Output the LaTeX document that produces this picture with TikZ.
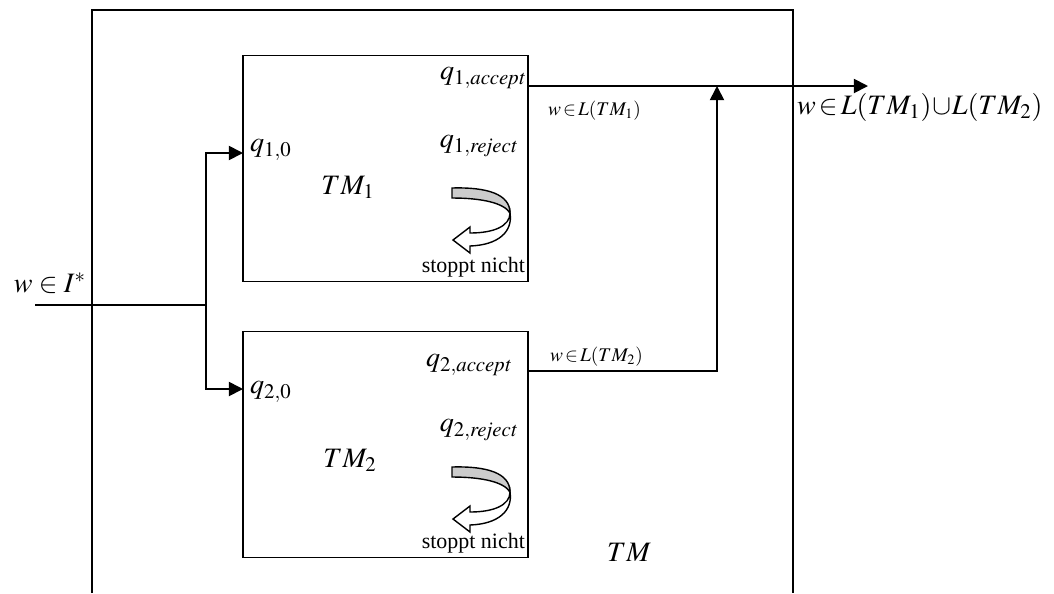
\documentclass[tikz,border=0pt]{standalone}
\usepackage{mathptmx}
\usepackage{fontspec}
\setmainfont{Liberation Serif}
\usetikzlibrary{arrows.meta,positioning}

\tikzset{
  machine/.style={draw, line width=1pt, minimum width=5.7cm, minimum height=4.52cm, inner sep=0pt},
  wire/.style={line width=1pt},
  feed/.style={wire, -{Triangle[length=8pt,width=8pt]}},
  bigtext/.style={font=\fontsize{16}{18}\selectfont, inner sep=1pt},
  smalltext/.style={font=\fontsize{11}{13}\selectfont, inner sep=1pt},
  haltnote/.style={font=\fontsize{12.5}{14}\selectfont, inner sep=1pt},
  loopcurl/.pic={
    \draw[line width=0.8pt, fill=gray!40] (0,0) .. controls (35,-1) and (58,6) .. (58,25)
      .. controls (52,15) and (30,10) .. (0,10) -- cycle;
    \draw[line width=0.8pt, fill=white] (58,25) .. controls (58,38) and (42,45) .. (18,45)
      -- (18,39) -- (1,52) -- (18,65) -- (18,58) .. controls (46,57) and (61,44) .. (58,25) -- cycle;
  }
}

\begin{document}
\begin{tikzpicture}[x=0.02cm,y=-0.02cm]
  \useasboundingbox (0,0) rectangle (1054,593);
  % outer machine
  \draw[wire] (92,593) -- (92,10) -- (793,10) -- (793,593);
  \node[bigtext] (tm) at (629,552) {$TM$};

  % the two machines
  \node[machine] (tm1) at (385.5,168.5) {};
  \node[machine] (tm2) at (385.5,444.5) {};

  \node[bigtext, anchor=west] (q10) at (248,150) {$q_{1,0}$};
  \node[bigtext, anchor=east] (q1a) at (528,78) {$q_{1,\mathit{accept}}$};
  \node[bigtext, anchor=east] (q1r) at (520,146) {$q_{1,\mathit{reject}}$};
  \node[bigtext] (m1) at (348,187) {$TM_1$};
  \pic at (452,188) {loopcurl};
  \node[haltnote, anchor=east] (h1) at (527,267) {stoppt nicht};

  \node[bigtext, anchor=west] (q20) at (248,392) {$q_{2,0}$};
  \node[bigtext, anchor=east] (q2a) at (514,365) {$q_{2,\mathit{accept}}$};
  \node[bigtext, anchor=east] (q2r) at (520,430) {$q_{2,\mathit{reject}}$};
  \node[bigtext] (m2) at (350,460) {$TM_2$};
  \pic at (452,467) {loopcurl};
  \node[haltnote, anchor=east] (h2) at (527,543) {stoppt nicht};

  % input
  \coordinate (in) at (35,305);
  \coordinate (split) at (206,305);
  \coordinate (in1) at (243,153);
  \coordinate (in2) at (243,389);
  \node[bigtext] (word) at (50,283) {$w\in I^{*}$};
  \draw[wire] (in) -- (split);
  \draw[feed] (split) |- (in1);
  \draw[feed] (split) |- (in2);

  % output
  \coordinate (acc1) at (528,86);
  \coordinate (acc2) at (528,371);
  \coordinate (join) at (717,86);
  \coordinate (out) at (868,86);
  \draw[feed] (acc1) -- (out);
  \draw[feed] (acc2) -| (join);
  \node[smalltext, anchor=west] (l1) at (546,111) {$w\!\in\! L(TM_1)$};
  \node[smalltext, anchor=west] (l2) at (548,357) {$w\!\in\! L(TM_2)$};
  \node[bigtext, anchor=west] (lout) at (795,107) {$w\!\in\! L(TM_1)\!\cup\! L(TM_2)$};
\end{tikzpicture}
\end{document}
